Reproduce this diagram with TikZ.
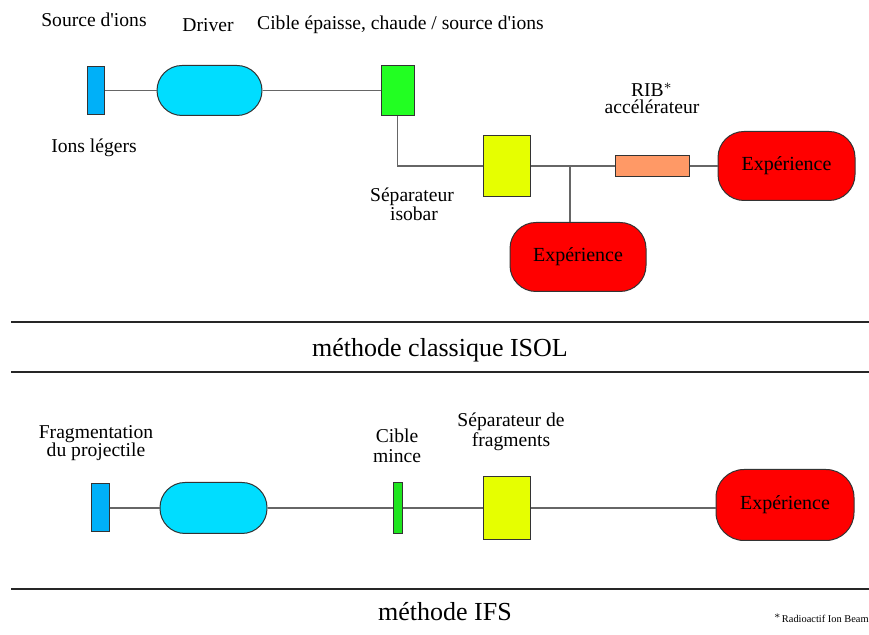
\documentclass[tikz,border=0pt]{standalone}
\usepackage{fontspec}
\setmainfont{Liberation Serif}
\definecolor{srcblue}{HTML}{00B0F8}
\definecolor{drvcyan}{HTML}{00DDFF}
\definecolor{tgtgreen}{HTML}{22FF22}
\definecolor{sepyellow}{HTML}{E6FF00}
\definecolor{accorange}{HTML}{FF9966}
\definecolor{expred}{HTML}{FF0000}
\definecolor{linegray}{HTML}{666666}
\newcommand{\apos}{\textquotesingle}
\begin{document}
\begin{tikzpicture}[x=0.5pt,y=-0.5pt,
  part/.style={draw=black!80, line width=0.5pt, inner sep=0pt},
  conn/.style={draw=linegray, line width=0.65pt},
  lbl/.style={font=\fontsize{9.8pt}{10pt}\selectfont, inner sep=0pt, align=center},
  title/.style={font=\fontsize{13pt}{14pt}\selectfont, inner sep=0pt},
  sepline/.style={line width=1.3pt, draw=black!85},
  exptext/.style={font=\fontsize{10pt}{10pt}\selectfont}]
\useasboundingbox (0,0) rectangle (869,635);
% ---------- top: ISOL ----------
\node[part, fill=srcblue, minimum width=8.5pt, minimum height=24pt] (src) at (95.5,90.5) {};
\node[part, fill=drvcyan, minimum width=52.5pt, minimum height=25pt, rounded corners=12.5pt] (drv) at (209.5,90.5) {};
\node[part, fill=tgtgreen, minimum width=16.5pt, minimum height=25pt] (tgt) at (397.5,90.5) {};
\node[part, fill=sepyellow, minimum width=23.5pt, minimum height=30.5pt] (sep) at (506.5,166) {};
\node[part, fill=accorange, minimum width=37pt, minimum height=10.5pt] (acc) at (652,166) {};
\node[part, fill=expred, minimum width=68.5pt, minimum height=34.5pt, rounded corners=13pt, exptext] (exp1) at (786.5,166) {Expérience};
\node[part, fill=expred, minimum width=68pt, minimum height=34.5pt, rounded corners=13pt, exptext] (exp2) at (578,257) {Expérience};
\coordinate (jn) at (570,166);
\draw[conn] (src.east) -- (drv.west);
\draw[conn] (drv.east) -- (tgt.west);
\draw[conn] (tgt.south) |- (sep.west);
\draw[conn] (sep.east) -- (acc.west);
\draw[conn] (acc.east) -- (exp1.west);
\draw[conn] (jn) -- (jn |- exp2.north);
\node[lbl] (l1) at (94,20) {Source d\apos ions};
\node[lbl] (l2) at (208,25) {Driver};
\node[lbl] (l3) at (400.5,25) {Cible épaisse, chaude / source d\apos ions};
\node[lbl] (l4) at (94,148) {Ions légers};
\node[lbl] (l5) at (652,90) {RIB$^{*}$};
\node[lbl] (l6) at (652,107) {accélérateur};
\node[lbl] (l7) at (412,197) {Séparateur};
\node[lbl] (l8) at (414,214) {isobar};
% separators
\draw[sepline] (11,322) -- (869,322);
\draw[sepline] (11,372) -- (869,372);
\node[title] (t1) at (440,350) {méthode classique ISOL};
% ---------- bottom: IFS ----------
\node[part, fill=srcblue, minimum width=9pt, minimum height=24pt] (src2) at (100,508) {};
\node[part, fill=drvcyan, minimum width=53.5pt, minimum height=25.5pt, rounded corners=12.5pt] (drv2) at (213.5,508) {};
\node[part, fill=tgtgreen!90!black, minimum width=4.5pt, minimum height=25.5pt] (tgt2) at (397.5,508) {};
\node[part, fill=sepyellow, minimum width=23.5pt, minimum height=31.5pt] (sep2) at (506.5,508) {};
\node[part, fill=expred, minimum width=69pt, minimum height=35.5pt, rounded corners=14pt, exptext] (exp3) at (785,505) {Expérience};
\draw[conn] (src2.east) -- (drv2.west);
\draw[conn] (drv2.east) -- (tgt2.west);
\draw[conn] (tgt2.east) -- (sep2.west);
\draw[conn] (sep2.east) -- (sep2.east -| exp3.west);
\node[lbl] (b1) at (96,434) {Fragmentation};
\node[lbl] (b2) at (96,452) {du projectile};
\node[lbl] (b3) at (397,436) {Cible};
\node[lbl] (b4) at (397,456) {mince};
\node[lbl] (b5) at (511,422) {Séparateur de};
\node[lbl] (b6) at (511,442) {fragments};
\draw[sepline] (11,589) -- (869,589);
\node[title] (t2) at (445,612) {méthode IFS};
\node[inner sep=0pt, anchor=east, font=\fontsize{5.2pt}{6pt}\selectfont] (fn) at (869,618) {$^{*}$Radioactif Ion Beam};
\end{tikzpicture}
\end{document}
